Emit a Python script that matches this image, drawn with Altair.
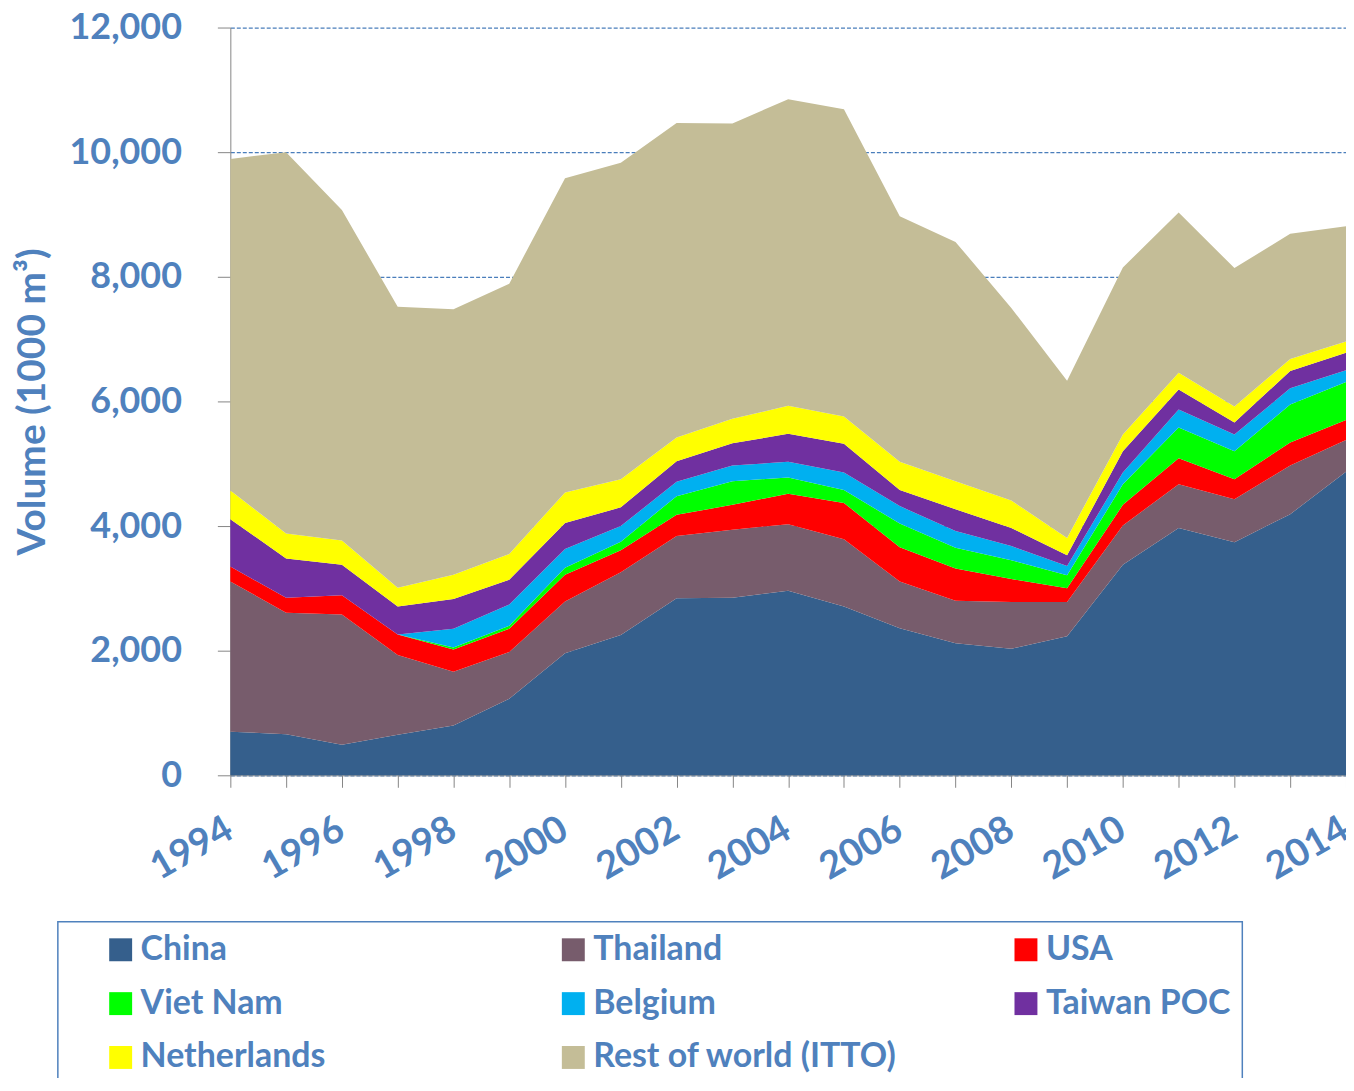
import altair as alt
import pandas as pd

years = list(range(1994, 2015))
series = ["China", "Thailand", "USA", "Viet Nam", "Belgium", "Taiwan POC",
          "Netherlands", "Rest of world (ITTO)"]
colors = ["#355f8c", "#775c6c", "#ff0000", "#00ff00", "#00b0f0", "#7030a0",
          "#ffff00", "#c4bd97"]

china = [700, 660, 490, 650, 800, 1230, 1960, 2250, 2840, 2850, 2960, 2710,
         2360, 2120, 2030, 2230, 3380, 3970, 3740, 4190, 4870]
thailand = [2410, 1950, 2090, 1280, 860, 750, 830, 1010, 1000, 1090, 1070, 1080,
            750, 680, 750, 550, 630, 700, 690, 780, 510]
usa = [240, 240, 310, 330, 360, 370, 430, 350, 340, 400, 490, 580,
       550, 520, 370, 220, 330, 420, 320, 370, 320]
viet_nam = [0, 0, 0, 0, 30, 50, 110, 140, 300, 380, 260, 210,
            380, 330, 300, 210, 330, 490, 450, 610, 610]
belgium = [0, 0, 0, 0, 300, 340, 300, 250, 230, 250, 250, 280,
           280, 270, 230, 150, 190, 290, 270, 260, 190]
taiwan = [760, 630, 490, 450, 480, 400, 420, 300, 330, 360, 450, 460,
          260, 350, 290, 170, 340, 320, 190, 280, 280]
netherlands = [460, 400, 390, 300, 390, 410, 490, 450, 380, 390, 450, 440,
               450, 450, 440, 280, 270, 270, 260, 190, 180]
rest_of_world = [5320, 6120, 5300, 4510, 4260, 4340, 5040, 5080, 5050, 4740, 4920, 4930,
                 3940, 3840, 3090, 2520, 2680, 2570, 2220, 2010, 1850]

y_ticks = [0, 2000, 4000, 6000, 8000, 10000, 12000]

all_values = [china, thailand, usa, viet_nam, belgium, taiwan, netherlands, rest_of_world]
rows = []
for i, (name, vals) in enumerate(zip(series, all_values)):
    for yr, v in zip(years, vals):
        rows.append({"year": yr, "country": name, "volume": v, "idx": i})
df = pd.DataFrame(rows)

BLUE = "#4f81bd"
GREY = "#868686"
FONT = "Lato"

chart = alt.Chart(df).mark_area(interpolate="linear").encode(
    x=alt.X(
        "year:Q",
        scale=alt.Scale(domain=[1994, 2014], nice=False, zero=False),
        axis=alt.Axis(
            values=years, format="d",
            labelExpr="datum.value % 2 == 0 ? datum.label : ''",
            labelAngle=-30, labelAlign="right", labelBaseline="top",
            labelPadding=23, labelOffset=-10,
            labelOverlap=False, labelFlush=False,
            labelFont=FONT, labelFontSize=38, labelFontWeight="bold",
            labelColor=BLUE, tickSize=12, tickColor=GREY, domainColor=GREY,
            grid=False, title=None,
        ),
    ),
    y=alt.Y(
        "volume:Q", stack="zero",
        scale=alt.Scale(domain=[0, 12000], nice=False),
        axis=alt.Axis(
            values=y_ticks, format=",d",
            labelFont=FONT, labelFontSize=36, labelFontWeight="bold",
            labelColor=BLUE, labelPadding=36,
            tickSize=13, tickColor=GREY, domainColor=GREY,
            grid=True, gridColor="#4a7ebb", gridDash=[4, 2], gridWidth=1.2,
            title="Volume (1000 m³)", titleFont=FONT, titleFontSize=39,
            titleFontWeight="bold", titleColor=BLUE,
            titleX=-198, titleAlign="center", titleBaseline="middle",
        ),
    ),
    color=alt.Color(
        "country:N",
        scale=alt.Scale(domain=series, range=colors),
        legend=alt.Legend(
            orient="none", legendX=-173, legendY=897, columns=3,
            direction="horizontal",
            title=" ", titleOrient="left", titleFontSize=1, titlePadding=35,
            symbolType="square", symbolSize=529, symbolStrokeWidth=0,
            symbolOpacity=1,
            labelFont=FONT, labelFontSize=34, labelFontWeight="bold",
            labelColor=BLUE, labelOffset=3, labelLimit=600,
            rowPadding=20, columnPadding=111, gridAlign="all",
            padding=11, strokeColor=BLUE,
        ),
    ),
    order=alt.Order("idx:Q", sort="ascending"),
).properties(
    width=1119, height=750,
    autosize=alt.AutoSizeParams(type="none"),
    padding={"left": 223, "top": 18, "right": 0, "bottom": 302},
).configure_view(stroke=None).configure_legend(strokeWidth=1.5)

chart.save("out.html", embed_options={"renderer": "svg", "actions": False})
